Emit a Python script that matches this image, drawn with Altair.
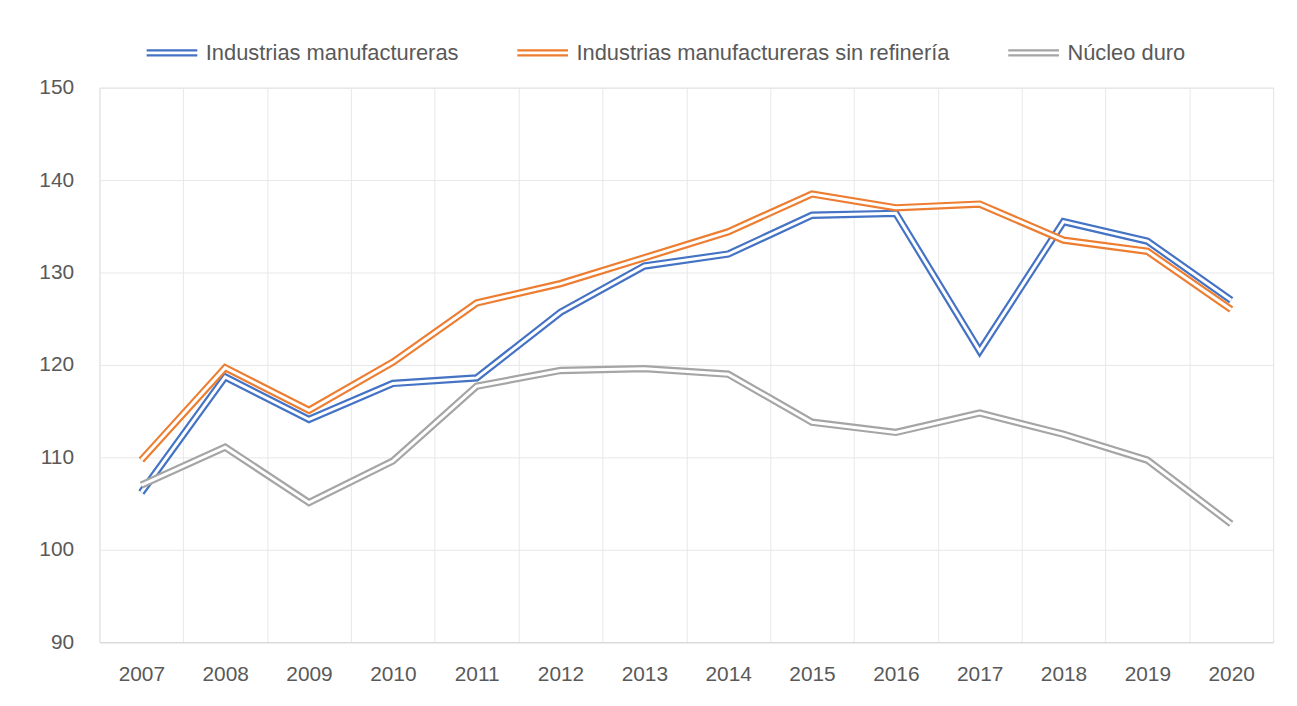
import altair as alt
import pandas as pd

years = [str(y) for y in range(2007, 2021)]
series_names = [
    "Industrias manufactureras",
    "Industrias manufactureras sin refinería",
    "Núcleo duro",
]
manufactureras = [106.2, 118.7, 114.1, 118.0, 118.6, 125.7, 130.7, 132.0, 136.2, 136.4, 121.5, 135.5, 133.4, 127.0]
sin_refineria = [109.7, 119.7, 115.1, 120.3, 126.7, 128.8, 131.6, 134.4, 138.5, 137.0, 137.4, 133.5, 132.3, 126.0]
nucleo_duro = [107.0, 111.1, 105.1, 109.6, 117.7, 119.4, 119.6, 119.0, 113.8, 112.7, 114.8, 112.5, 109.7, 102.8]
colors = ["#4472C4", "#ED7D31", "#A5A5A5"]
y_ticks = [90, 100, 110, 120, 130, 140, 150]

rows = []
for name, vals in zip(series_names, [manufactureras, sin_refineria, nucleo_duro]):
    for yr, v in zip(years, vals):
        rows.append({"anio": yr, "valor": v, "serie": name})
df = pd.DataFrame(rows)

FONT = "Liberation Sans"
TXT = "#595959"

x_enc = alt.X(
    "anio:O",
    sort=years,
    scale=alt.Scale(type="band", paddingInner=0, paddingOuter=0),
    axis=alt.Axis(
        title=None, tickBand="extent", ticks=False, grid=True,
        gridColor="#E8E8E8", domainColor="#D9D9D9", domainWidth=1.2,
        labelAngle=0, labelPadding=22, labelFontSize=21, labelColor=TXT,
        labelFont=FONT,
    ),
)
y_enc = alt.Y(
    "valor:Q",
    scale=alt.Scale(domain=[90, 150], nice=False, zero=False),
    axis=alt.Axis(
        title=None, values=y_ticks, ticks=False, domain=False, grid=True,
        gridColor="#E8E8E8", labelPadding=26, labelFontSize=21,
        labelColor=TXT, labelFont=FONT,
    ),
)

color_scale = alt.Scale(domain=series_names, range=colors)
legend = alt.Legend(
    title=None, orient="none", direction="horizontal",
    legendX=46, legendY=-62,
    symbolType="M-1,-0.1L1,-0.1M-1,0.1L1,0.1",
    symbolSize=2601, symbolStrokeWidth=2.3, symbolFillColor="transparent",
    labelOffset=7, labelFontSize=22, labelColor=TXT, labelFont=FONT,
    labelLimit=600, columnPadding=53, columns=3,
)

layers = []
for name in series_names:
    base = alt.Chart(df).transform_filter(alt.datum.serie == name)
    outer = base.mark_line(strokeWidth=7.4, strokeJoin="miter").encode(
        x=x_enc, y=y_enc,
        color=alt.Color("serie:N", scale=color_scale, legend=legend),
    )
    inner = base.mark_line(strokeWidth=3, strokeJoin="miter", color="white").encode(
        x=x_enc, y=y_enc,
    )
    layers += [outer, inner]

chart = (
    alt.layer(*layers)
    .properties(
        width=1181, height=558,
        autosize=alt.AutoSizeParams(type="none"),
        padding={"left": 92, "top": 78, "right": 16, "bottom": 54},
    )
    .configure_view(strokeWidth=0)
    .configure(background="white")
)

chart.save("out.html", embed_options={"renderer": "svg", "actions": False})
